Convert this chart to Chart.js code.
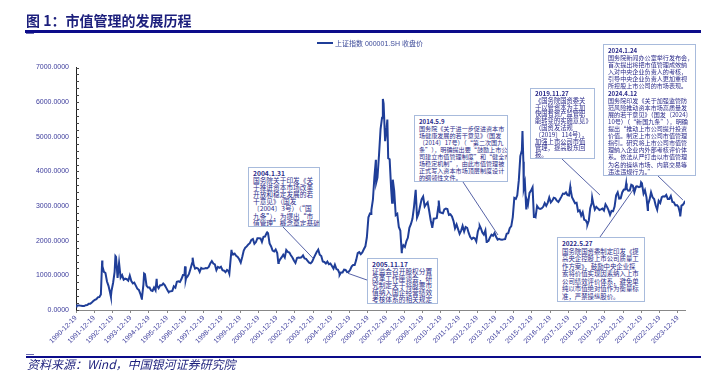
<!DOCTYPE html>
<html><head><meta charset="utf-8">
<script src="https://cdn.jsdelivr.net/npm/chart.js@4.4.1/dist/chart.umd.min.js"></script>
<style>
html,body{margin:0;padding:0;background:#fff;width:701px;height:372px;overflow:hidden;}
#wrap{position:relative;width:701px;height:372px;}
#c{position:absolute;left:0;top:0;}
.t{position:absolute;font-family:"Noto Sans CJK SC","Noto Sans",sans-serif;white-space:nowrap;}
#title{left:26px;top:12px;font-size:14px;line-height:16px;font-weight:700;color:#1c1f7c;}
.rule{position:absolute;background:#0c0c8a;}
#src{left:27px;top:357px;font-size:12px;line-height:14px;font-style:italic;color:#1c1f7c;}
#leg{left:317px;top:39px;font-size:7px;line-height:10px;color:#3c4a99;font-family:"Liberation Sans","Noto Sans CJK SC",sans-serif;}
#leg i{display:inline-block;width:16px;height:2px;background:#1f3e98;vertical-align:middle;margin-right:2px;position:relative;top:-1px;}
.box{position:absolute;box-sizing:border-box;border:1px solid #a8bbdc;background:#fff;padding:2px 3px 2px 4px;color:#2b2b8a;
 font-family:"Noto Sans CJK SC",sans-serif;white-space:nowrap;overflow:hidden;z-index:2;}
.box b{font-weight:700;}
</style></head>
<body><div id="wrap">
<canvas id="c" width="701" height="372"></canvas>
<div class="t" id="title">图 1：市值管理的发展历程</div>
<div class="rule" style="left:25px;top:30px;width:676px;height:2.5px;"></div>
<div class="rule" style="left:26px;top:33px;width:8px;height:1px;background:#6a6ab0;"></div>
<div class="t" id="leg"><i></i>上证指数 000001.SH 收盘价</div>
<div class="rule" style="left:26px;top:353.5px;width:8px;height:1px;background:#6a6ab0;"></div>
<div class="rule" style="left:26px;top:355.5px;width:675px;height:2px;"></div>
<div class="t" id="src">资料来源：Wind，中国银河证券研究院</div>

<div class="box" style="left:248px;top:167px;width:72px;height:60px;font-size:6.7px;line-height:7.1px;"><b>2004.1.31</b><br>国务院关于印发《关<br>于推进资本市场改革<br>开放和稳定发展的若<br>干意见》（国发<br>〔2004〕3号）（“国<br>九条”），为提出“市<br>值管理”概念奠定基础。</div>

<div class="box" style="left:367px;top:258px;width:71px;height:46px;font-size:6.7px;line-height:7.1px;"><b>2005.11.17</b><br>证监会召开股权分置<br>改革工作座谈会，研<br>究制定关于将股票市<br>值纳入国企经营绩效<br>考核体系的相关规定</div>

<div class="box" style="left:414px;top:115px;width:94px;height:67px;font-size:6.1px;line-height:7px;"><b>2014.5.9</b><br>国务院《关于进一步促进资本市<br>场健康发展的若干意见》（国发<br>〔2014〕17号）（“第二次国九<br>条”），明确提出要“鼓励上市公<br>司建立市值管理制度”和“健全市<br>场稳定机制”，由此市值管理被<br>正式写入资本市场顶层制度设计<br>的纲领性文件。</div>

<div class="box" style="left:530px;top:88px;width:65px;height:71px;font-size:6.3px;line-height:6.8px;"><b>2019.11.27</b><br>《国务院国资委关<br>于以管资本为主加<br>快国有资产监管职<br>能转变的实施意见》<br>（国资发法规<br>〔2019〕114号），<br>加强上市公司市值<br>管理，提高股东回<br>报。</div>

<div class="box" style="left:603px;top:44px;width:93px;height:132px;font-size:6.1px;line-height:7.1px;"><b>2024.1.24</b><br>国务院新闻办公室举行发布会，<br>首次提出将把市值管理成效纳<br>入对中央企业负责人的考核，<br>引导中央企业负责人更加重视<br>所控股上市公司的市场表现。<br><b>2024.4.12</b><br>国务院印发《关于加强监管防<br>范风险推动资本市场高质量发<br>展的若干意见》（国发〔2024〕<br>10号）（“新国九条”），明确<br>提出“推动上市公司提升投资<br>价值。制定上市公司市值管理<br>指引。研究将上市公司市值管<br>理纳入企业内外部考核评价体<br>系。依法从严打击以市值管理<br>为名的操纵市场、内幕交易等<br>违法违规行为。”</div>

<div class="box" style="left:557px;top:237px;width:88px;height:65px;font-size:6.4px;line-height:7.5px;"><b>2022.5.27</b><br>国务院国资委制定印发《提<br>高央企控股上市公司质量工<br>作方案》，鼓励中央企业探<br>索将价值实现因素纳入上市<br>公司绩效评价体系，避免单<br>纯以市值绝对值作为衡量标<br>准，严禁操纵股价。</div>
</div>
<script>
// ---- Data: Shanghai Composite (000001.SH) close ----
const monthlyYears = [1991,1992,1993,1994,1995,1996,1997,1998,1999,2000,2001,2002,2003,2004,2005,2006,2007,2008,2009,2010,2011,2012,2013,2014,2015,2016,2017,2018,2019,2020,2021,2022,2023,2024];
const monthlyClose = [
 [130,133,120,114,115,138,144,178,181,219,260,293],
 [313,365,372,445,1266,1102,1069,822,697,507,557,780],
 [1103,1537,926,1359,934,1007,875,907,889,845,992,834],
 [770,793,704,614,578,467,334,747,1033,706,649,648],
 [563,549,649,569,701,631,716,713,763,717,639,555],
 [537,541,552,683,645,815,829,809,893,1009,1014,917],
 [967,1042,1192,1347,1315,1194,1217,1193,1097,1214,1190,1194],
 [1210,1207,1243,1343,1412,1339,1316,1151,1243,1217,1249,1147],
 [1135,1090,1158,1121,1279,1689,1601,1628,1567,1532,1463,1367],
 [1535,1715,1800,1836,1895,1928,2023,2051,1910,1961,2071,2073],
 [2066,1965,2113,2119,2214,2218,1920,1834,1717,1689,1747,1646],
 [1382,1462,1525,1595,1516,1733,1677,1657,1582,1514,1431,1358],
 [1500,1513,1511,1521,1577,1487,1477,1421,1367,1348,1397,1497],
 [1591,1675,1742,1596,1556,1399,1386,1342,1397,1321,1341,1267],
 [1192,1306,1181,1159,1061,1081,1083,1163,1156,1093,1099,1161],
 [1258,1299,1298,1440,1641,1672,1613,1659,1752,1838,2099,2675],
 [2786,2881,3184,3841,4110,3821,4471,5219,5552,5955,4872,5262],
 [4383,4349,3473,3693,3433,2736,2776,2397,2294,1729,1871,1821],
 [1991,2083,2373,2478,2633,2959,3412,2668,2779,2996,3195,3277],
 [2989,3052,3109,2871,2592,2398,2638,2639,2656,2979,2820,2808],
 [2791,2905,2928,2912,2743,2762,2702,2567,2359,2468,2333,2199],
 [2293,2428,2263,2396,2372,2225,2104,2048,2086,2069,1980,2269],
 [2385,2366,2237,2178,2301,1979,1994,2098,2175,2142,2221,2116],
 [2033,2056,2033,2026,2039,2048,2202,2217,2364,2420,2683,3235],
 [3210,3310,3748,4442,4612,4277,3664,3206,3053,3383,3445,3539],
 [2738,2688,3004,2938,2917,2930,2979,3085,3005,3100,3250,3104],
 [3159,3242,3223,3155,3117,3192,3273,3361,3349,3393,3317,3307],
 [3481,3259,3169,3082,3095,2847,2876,2725,2821,2603,2588,2494],
 [2585,2941,3091,3078,2899,2979,2933,2886,2905,2929,2872,3050],
 [2977,2880,2750,2860,2852,2985,3310,3396,3218,3225,3392,3473],
 [3483,3509,3442,3447,3615,3591,3397,3544,3568,3547,3564,3640],
 [3361,3462,3252,3047,3186,3399,3253,3202,3024,2893,3151,3089],
 [3256,3280,3273,3323,3205,3202,3291,3120,3110,3019,3030,2975],
 [2789,3015,3041,3105]
];
const extraDates = ['1990-12-19','1990-12-31','1992-05-26','1992-11-17','1993-02-16','1994-07-29','1994-09-13','1995-05-22','1996-01-19','1996-12-11','1996-12-24','1997-05-12','1999-05-17','1999-06-29','2001-06-13','2002-01-22','2005-06-03','2007-02-27','2007-05-29','2007-06-04','2007-10-16','2008-01-14','2008-04-18','2008-05-05','2008-10-28','2009-08-04','2010-07-02','2010-11-08','2013-02-06','2013-06-25','2015-06-12','2015-07-08','2015-08-26','2016-01-28','2018-01-24','2019-01-03','2019-04-08','2021-02-18','2021-12-13','2022-04-26','2024-02-05','2024-05-10'];
const extraClose = [100,128,1429,387,1559,326,1053,897,513,1259,869,1510,1048,1739,2242,1359,1013,2772,4335,3670,6092,5497,3095,3761,1665,3471,2373,3160,2434,1960,5166,3507,2927,2656,3559,2464,3245,3655,3681,2886,2702,3155];
const tickYears = [1990,1991,1992,1993,1994,1995,1996,1997,1998,1999,2000,2001,2002,2003,2004,2005,2006,2007,2008,2009,2010,2011,2012,2013,2014,2015,2016,2017,2018,2019,2020,2021,2022,2023];
// annotation anchors on the curve (decimal year, index level)
const annoX = [2003.95, 2005.88, 2014.10, 2019.69, 2024.24, 2021.70];
const annoY = [1500, 1058, 2165, 3321, 3176, 3610];
// box edge points where the leader lines start (layout, px)
const leaderFrom = [[283,227],[367,280],[463,182],[562,159],[658,176],[600,237]];

function toYear(s){
  const [y,m,d] = s.split('-').map(Number);
  const t = Date.UTC(y,m-1,d), t0 = Date.UTC(y,0,1), t1 = Date.UTC(y+1,0,1);
  return y + (t - t0)/(t1 - t0);
}
const pts = [];
monthlyYears.forEach((y,i)=>{
  monthlyClose[i].forEach((v,m)=>{
    const last = new Date(Date.UTC(y,m+1,0)).getUTCDate();
    pts.push({x: toYear(`${y}-${m+1}-${last}`), y: v});
  });
});
extraDates.forEach((d,i)=>pts.push({x: toYear(d), y: extraClose[i]}));
pts.sort((a,b)=>a.x-b.x);

const leaderPlugin = {
  id:'leaders',
  afterDatasetsDraw(chart){
    const {ctx, scales:{x,y}} = chart;
    ctx.save();
    // inward minor ticks on the value axis
    ctx.strokeStyle='#444'; ctx.lineWidth=1;
    y.ticks.forEach(t=>{
      const py = Math.round(y.getPixelForValue(t.value))+0.5;
      ctx.beginPath(); ctx.moveTo(x.left, py); ctx.lineTo(x.left+3, py); ctx.stroke();
    });
    ctx.strokeStyle='#2b3a8f'; ctx.lineWidth=0.8;
    leaderFrom.forEach((p,i)=>{
      ctx.beginPath(); ctx.moveTo(p[0],p[1]);
      ctx.lineTo(x.getPixelForValue(annoX[i]), y.getPixelForValue(annoY[i]));
      ctx.stroke();
    });
    ctx.restore();
  }
};

const tickFont = {family:'"Liberation Sans", Arial, sans-serif', size:7};
new Chart(document.getElementById('c'), {
  type:'line',
  data:{datasets:[{label:'上证指数 000001.SH 收盘价', data:pts, borderColor:'#1f3e98', borderWidth:2, pointRadius:0, tension:0, fill:false}]},
  options:{
    responsive:false, animation:false, devicePixelRatio:1,
    layout:{padding:{left:0,right:16,top:67.5,bottom:0}},
    plugins:{legend:{display:false}, title:{display:false}, tooltip:{enabled:false}},
    scales:{
      x:{type:'linear', min:toYear('1990-12-19'), max:toYear('2024-05-10'),
        afterBuildTicks:(ax)=>{ax.ticks = tickYears.map(y=>({value: toYear(`${y}-12-19`)}));},
        afterFit:(s)=>{s.height = 62;},
        grid:{drawOnChartArea:false, drawTicks:true, tickLength:3, color:'#888'},
        border:{color:'#888', width:1},
        ticks:{autoSkip:false, minRotation:45, maxRotation:45, padding:1, color:'#3b3b9b', font:tickFont,
          callback:(v)=>{const y=Math.floor(v); return `${y}-12-19`;}}
      },
      y:{type:'linear', min:0, max:7000,
        afterFit:(s)=>{s.width = 76;},
        grid:{drawOnChartArea:false, drawTicks:false},
        border:{color:'#222', width:1},
        ticks:{stepSize:200, autoSkip:false, padding:7, color:'#3b3b9b', font:tickFont,
          callback:(v)=> (v % 1000 === 0 ? v.toFixed(4) : '')}
      }
    }
  },
  plugins:[leaderPlugin]
});
</script>
</body></html>
